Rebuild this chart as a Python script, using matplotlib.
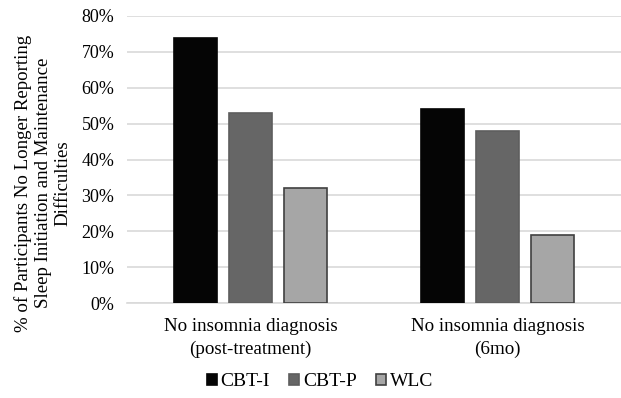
import numpy as np
import matplotlib.pyplot as plt

# data
categories = ['No insomnia diagnosis\n(post-treatment)', 'No insomnia diagnosis\n(6mo)']
groups = ['CBT-I', 'CBT-P', 'WLC']
cbt_i = [74, 54]
cbt_p = [53, 48]
wlc = [32, 19]
yticks = [0, 10, 20, 30, 40, 50, 60, 70, 80]

plt.rcParams['font.family'] = ['Liberation Serif', 'DejaVu Serif']

fig = plt.figure(figsize=(6.21, 3.98), dpi=100)
ax = fig.add_axes([127/621, 1 - 303/398, 494/621, 287/398])

x = np.arange(len(categories))
width = 0.175
step = 0.222
colors = ['#050505', '#666666', '#a6a6a6']
edges = ['#050505', '#5e5e5e', '#404040']
for i, (vals, name) in enumerate(zip([cbt_i, cbt_p, wlc], groups)):
    ax.bar(x + (i - 1) * step, vals, width, color=colors[i], edgecolor=edges[i],
           linewidth=1.2, label=name, zorder=3)

ax.set_xlim(-0.5, 1.5)
ax.set_ylim(0, 80)
ax.set_yticks(yticks)
ax.set_yticklabels([f'{t}%' for t in yticks], fontsize=13)
ax.set_xticks(x)
ax.set_xticklabels(categories, fontsize=13.7, linespacing=1.4)
ax.tick_params(axis='both', length=0)
ax.tick_params(axis='x', pad=11)
ax.tick_params(axis='y', pad=9)
ax.grid(axis='y', color='#d9d9d9', linewidth=1.2, zorder=0)
for s in ['top', 'right', 'left']:
    ax.spines[s].set_visible(False)
ax.spines['bottom'].set_color('#d9d9d9')
ax.spines['bottom'].set_linewidth(1.2)

ax.set_ylabel('% of Participants No Longer Reporting\nSleep Initiation and Maintenance\nDifficulties',
              fontsize=13.6, linespacing=1.2)
ax.yaxis.set_label_coords(-0.112, 0.418)

fig.legend(loc='lower center', bbox_to_anchor=(320/621, 0.0), ncol=3, frameon=False,
           fontsize=14, handlelength=0.5, handleheight=0.5, handletextpad=0.2,
           columnspacing=1.0, borderaxespad=0.0)

fig.savefig('out.png', dpi=100)
